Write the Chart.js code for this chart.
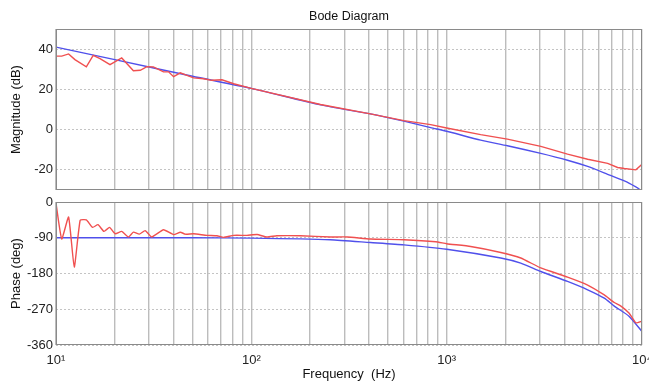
<!DOCTYPE html>
<html lang="en">
<head>
<meta charset="UTF-8" />
<title>Bode Diagram</title>
<script src="https://cdn.jsdelivr.net/npm/chart.js"></script>
<style>
  body { margin: 0; background: #fff; }
  .wrap { position: absolute; left: 0; width: 649px; }
  #magWrap { top: 0; height: 196px; }
  #phaseWrap { top: 196px; height: 186px; }
</style>
</head>
<body>
<div class="wrap" id="magWrap"><canvas id="magChart"></canvas></div>
<div class="wrap" id="phaseWrap"><canvas id="phaseChart"></canvas></div>

<script>
  // measured response (red)
  const magRedFreq = [10, 10.7, 11.6, 12.5, 14.3, 15.5, 16.8, 18.9, 21.7, 24.9, 27, 29.2, 31.5, 35.5, 37.7, 40, 43.3, 46.8, 50.6, 56.9, 62.8, 70.7, 81.2, 100, 226, 407, 604, 828, 1000, 1493, 2046, 3034, 4156, 5270, 6670, 7500, 8120, 9300, 10000];
  const magRed = [36.5, 36.5, 37.6, 34.8, 31.2, 36.9, 35.3, 32.3, 35.6, 29.3, 29.5, 31.3, 31.2, 28.7, 28.7, 26.3, 28.2, 27, 25.7, 25.3, 24.5, 24.8, 22.8, 20.5, 12.5, 7.8, 4.5, 2.5, 0.8, -2.5, -4.7, -8.3, -12.2, -14.7, -16.8, -18.8, -19.3, -20, -17.2];

  // model (blue)
  const magBlueFreq = [10, 20, 50, 100, 226, 407, 604, 828, 1000, 1493, 2046, 3034, 4156, 5270, 6670, 8120, 9300, 10000];
  const magBlue = [41, 34.8, 26.5, 20.5, 12.3, 7.8, 4.2, 1.0, -0.8, -5.2, -8, -11.8, -15.2, -18.3, -22.2, -25.5, -28.5, -30.5];

  const phaseRedFreq = [10, 10.7, 11.6, 12.4, 13.3, 14.3, 15.4, 16.4, 17.6, 18.8, 20.1, 21.7, 23.5, 24.9, 26.7, 28.6, 30.9, 35.5, 40, 43.3, 45.9, 50.6, 59.3, 66.7, 72.1, 81.2, 95, 107, 120, 135, 178, 254, 310, 407, 604, 879, 1000, 1327, 1893, 2395, 3034, 4156, 5270, 6410, 7210, 7800, 8600, 9300, 10000];
  const phaseRed = [-3, -93, -38, -164, -46, -45, -64, -57, -74, -64, -80, -74, -88, -76, -81, -72, -88, -70, -82, -76, -81, -80, -84, -85, -89, -84, -84, -82, -88, -85, -85, -88, -88, -93, -95, -100, -105, -112, -127, -141, -166, -189, -209, -234, -253, -262, -280, -304, -300];

  const phaseBlueFreq = [10, 50, 100, 254, 407, 604, 1000, 1893, 2395, 3034, 4156, 5270, 6410, 7210, 8600, 10000];
  const phaseBlue = [-90, -90, -91, -95, -102, -108, -119, -141, -154, -175, -200, -221, -242, -262, -288, -326];

  const xGridTicks = [];
  for (let e = 1; e <= 3; e++) {
    for (let m = 1; m <= 9; m++) xGridTicks.push(m * Math.pow(10, e));
  }
  xGridTicks.push(10000);
  const xTickLabels = { 10: '10\u00B9', 100: '10\u00B2', 1000: '10\u00B3', 10000: '10\u2074' };

  const magTicks = [-20, 0, 20, 40];
  const phaseTicks = [-360, -270, -180, -90, 0];

  const FONT = "'Liberation Sans', Arial, sans-serif";
  const RED = 'rgb(240, 80, 80)';
  const BLUE = 'rgb(80, 80, 235)';

  function pts(xs, ys) {
    return xs.map((x, i) => ({ x: x, y: ys[i] }));
  }

  const framePlugin = {
    id: 'frame',
    afterDraw(chart) {
      const a = chart.chartArea;
      const ctx = chart.ctx;
      ctx.save();
      ctx.strokeStyle = '#8a8a8a';
      ctx.lineWidth = 1;
      ctx.strokeRect(a.left + 0.5, a.top + 0.5, a.right - a.left - 1, a.bottom - a.top - 1);
      if (chart.options.plugins.frame && chart.options.plugins.frame.title) {
        ctx.fillStyle = '#111';
        ctx.font = '12.5px ' + FONT;
        ctx.textAlign = 'center';
        ctx.textBaseline = 'middle';
        ctx.fillText(chart.options.plugins.frame.title, (a.left + a.right) / 2, 17);
      }
      ctx.restore();
    }
  };

  function makeOptions(cfg) {
    return {
      responsive: true,
      maintainAspectRatio: false,
      animation: false,
      layout: { padding: cfg.padding },
      plugins: {
        legend: { display: false },
        tooltip: { enabled: false },
        frame: { title: cfg.title || null }
      },
      scales: {
        x: {
          type: 'logarithmic',
          min: 10,
          max: 10000,
          afterBuildTicks: s => { s.ticks = xGridTicks.map(v => ({ value: v })); },
          afterFit: s => {
            s.height = cfg.xHeight;
            s.paddingLeft = 0; s.paddingRight = 0;
          },
          grid: { color: '#bcbcbc', lineWidth: 1.4, drawTicks: false },
          border: { display: false },
          ticks: {
            display: cfg.showX,
            autoSkip: false,
            maxRotation: 0,
            padding: 8,
            color: '#222',
            font: { family: FONT, size: 13 },
            callback: v => xTickLabels[v] || ''
          },
          title: {
            display: cfg.showX,
            text: 'Frequency  (Hz)',
            color: '#111',
            padding: 0,
            font: { family: FONT, size: 13 }
          }
        },
        y: {
          min: cfg.yMin,
          max: cfg.yMax,
          afterBuildTicks: s => { s.ticks = cfg.yTicks.map(v => ({ value: v })); },
          afterFit: s => {
            s.width = 56;
            s.paddingTop = 0; s.paddingBottom = 0;
          },
          grid: { color: '#c4c4c4', lineWidth: 1, drawTicks: false },
          border: { display: false, dash: [2, 2] },
          ticks: {
            padding: 3,
            color: '#222',
            font: { family: FONT, size: 13 }
          },
          title: {
            display: true,
            text: cfg.yTitle,
            color: '#111',
            padding: { top: 9, bottom: 0 },
            font: { family: FONT, size: 13 }
          }
        }
      }
    };
  }

  new Chart(document.getElementById('magChart'), {
    type: 'line',
    data: {
      datasets: [
        { data: pts(magRedFreq, magRed), borderColor: RED, borderWidth: 1.4, pointRadius: 0, tension: 0 },
        { data: pts(magBlueFreq, magBlue), borderColor: BLUE, borderWidth: 1.4, pointRadius: 0, tension: 0.2 }
      ]
    },
    options: makeOptions({
      padding: { top: 29, right: 7, bottom: 6, left: 0 },
      title: 'Bode Diagram',
      xHeight: 0,
      showX: false,
      yMin: -30, yMax: 50,
      yTicks: magTicks,
      yTitle: 'Magnitude (dB)'
    }),
    plugins: [framePlugin]
  });

  new Chart(document.getElementById('phaseChart'), {
    type: 'line',
    data: {
      datasets: [
        { data: pts(phaseRedFreq, phaseRed), borderColor: RED, borderWidth: 1.4, pointRadius: 0, tension: 0.15 },
        { data: pts(phaseBlueFreq, phaseBlue), borderColor: BLUE, borderWidth: 1.4, pointRadius: 0, tension: 0.2 }
      ]
    },
    options: makeOptions({
      padding: { top: 6, right: 7, bottom: 0, left: 0 },
      xHeight: 37,
      showX: true,
      yMin: -360, yMax: 0,
      yTicks: phaseTicks,
      yTitle: 'Phase (deg)'
    }),
    plugins: [framePlugin]
  });
</script>
</body>
</html>
